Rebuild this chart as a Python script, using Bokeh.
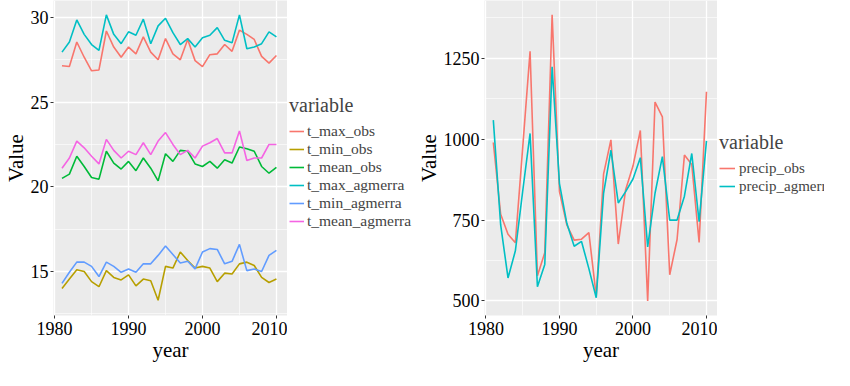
from bokeh.plotting import figure
from bokeh.layouts import row
from bokeh.models import Range1d, FixedTicker, Legend, LegendItem
from bokeh.embed import file_html
from bokeh.resources import INLINE

years = list(range(1981, 2011))

t_max_obs = [27.15, 27.1, 28.55, 27.65, 26.85, 26.9, 29.2, 28.25, 27.65, 28.25, 27.85, 28.85, 27.95, 27.5, 28.75,
             27.85, 27.5, 28.7, 27.45, 27.1, 27.8, 27.85, 28.4, 28.0, 29.25, 29.0, 28.7, 27.7, 27.3, 27.75]
t_min_obs = [14.0, 14.55, 15.1, 15.0, 14.4, 14.1, 15.05, 14.65, 14.5, 14.8, 14.15, 14.55, 14.45, 13.3, 15.3,
             15.2, 16.15, 15.65, 15.2, 15.3, 15.2, 14.4, 14.9, 14.85, 15.45, 15.55, 15.35, 14.65, 14.35, 14.55]
t_mean_obs = [20.5, 20.75, 21.8, 21.2, 20.55, 20.45, 22.1, 21.4, 21.05, 21.5, 20.95, 21.7, 21.1, 20.35, 21.95,
              21.5, 22.15, 22.1, 21.35, 21.2, 21.5, 21.1, 21.6, 21.4, 22.35, 22.25, 22.1, 21.2, 20.8, 21.15]
t_max_agmerra = [27.95, 28.55, 29.85, 29.0, 28.4, 28.05, 30.15, 29.0, 28.45, 29.15, 28.95, 29.9, 28.45, 29.5, 29.95,
                 29.1, 28.4, 28.75, 28.25, 28.8, 28.95, 29.4, 28.65, 28.5, 30.15, 28.15, 28.25, 28.45, 29.15, 28.85]
t_min_agmerra = [14.3, 14.95, 15.55, 15.55, 15.3, 14.7, 15.55, 15.3, 14.95, 15.15, 14.95, 15.45, 15.45, 15.95, 16.5,
                 16.0, 15.5, 15.6, 15.15, 16.15, 16.35, 16.3, 15.45, 15.6, 16.6, 15.05, 15.15, 15.0, 15.95, 16.25]
t_mean_agmerra = [21.1, 21.7, 22.7, 22.3, 21.8, 21.35, 22.8, 22.15, 21.7, 22.1, 21.9, 22.6, 21.9, 22.7, 23.2,
                  22.5, 21.9, 22.15, 21.7, 22.4, 22.6, 22.85, 22.0, 22.0, 23.3, 21.55, 21.7, 21.7, 22.5, 22.5]

precip_obs = [990, 768, 706, 680, 975, 1272, 578, 649, 1385, 838, 735, 688, 691, 711, 515,
              892, 998, 676, 844, 917, 1027, 500, 1115, 1069, 581, 690, 951, 922, 681, 1147]
precip_agmerra = [1059, 735, 571, 655, 840, 1018, 544, 613, 1224, 863, 740, 669, 684, 600, 510,
                  833, 966, 803, 838, 877, 943, 667, 833, 946, 750, 750, 824, 956, 745, 995]

x_ticks = [1980, 1990, 2000, 2010]
x_minor = [1985, 1995, 2005]
left_ticks = [15, 20, 25, 30]
left_minor = [12.5, 17.5, 22.5, 27.5]
right_ticks = [500, 750, 1000, 1250]
right_minor = [625, 875, 1125, 1375]

left_names = ["t_max_obs", "t_min_obs", "t_mean_obs", "t_max_agmerra", "t_min_agmerra", "t_mean_agmerra"]
left_series = [t_max_obs, t_min_obs, t_mean_obs, t_max_agmerra, t_min_agmerra, t_mean_agmerra]
left_colors = ["#F8766D", "#B79F00", "#00BA38", "#00BFC4", "#619CFF", "#F564E3"]
right_names = ["precip_obs", "precip_agmerra"]
right_series = [precip_obs, precip_agmerra]
right_colors = ["#F8766D", "#00BFC4"]

FONT = "Liberation Serif"
H = 364


def style(p, xt, xm, yt, ym):
    p.background_fill_color = "#EBEBEB"
    p.border_fill_color = "white"
    p.outline_line_color = None
    p.xaxis.ticker = FixedTicker(ticks=xt, minor_ticks=xm)
    p.yaxis.ticker = FixedTicker(ticks=yt, minor_ticks=ym)
    for g in (p.xgrid, p.ygrid):
        g.grid_line_color = "white"
        g.grid_line_width = 1.3
        g.minor_grid_line_color = "white"
        g.minor_grid_line_width = 0.6
    for ax in (p.xaxis, p.yaxis):
        ax.axis_line_color = None
        ax.major_tick_line_color = "#333333"
        ax.major_tick_in = 0
        ax.major_tick_out = 3
        ax.minor_tick_line_color = None
        ax.major_label_text_font = FONT
        ax.major_label_text_font_size = "18px"
        ax.major_label_text_color = "black"
        ax.axis_label_text_font = FONT
        ax.axis_label_text_font_style = "normal"
        ax.axis_label_text_font_size = "21px"
        ax.axis_label_text_color = "black"
    p.xaxis.major_label_standoff = 2
    p.yaxis.major_label_standoff = 1
    p.xaxis.axis_label_standoff = 0
    p.yaxis.axis_label_standoff = 0
    p.xaxis.axis_label = "year"
    p.yaxis.axis_label = "Value"


def legend_panel(width, names, series, colors, loc, font_size, glyph_w, standoff):
    # legend-only panel: the series lie outside its visible range,
    # so only the legend (keys + labels) shows
    lp = figure(width=width, height=H, output_backend="svg", toolbar_location=None,
                x_axis_type=None, y_axis_type=None,
                x_range=Range1d(0, 1), y_range=Range1d(0, 1),
                min_border_left=0, min_border_right=0, min_border_top=0, min_border_bottom=0)
    lp.grid.visible = False
    lp.outline_line_color = None
    lp.background_fill_color = "white"
    lp.border_fill_color = "white"
    items = []
    for name, ys, c in zip(names, series, colors):
        r = lp.line(years, ys, line_color=c, line_width=1.6)
        items.append(LegendItem(label=name, renderers=[r]))
    lg = Legend(items=items, title="variable", location=loc)
    lg.title_text_font = FONT
    lg.title_text_font_size = "20px"
    lg.title_text_font_style = "normal"
    lg.title_standoff = 5
    lg.label_text_font = FONT
    lg.label_text_font_size = font_size
    lg.glyph_width = glyph_w
    lg.glyph_height = 18
    lg.label_height = 18
    lg.label_standoff = standoff
    lg.spacing = 0
    lg.padding = 1
    lg.margin = 0
    lg.border_line_color = None
    lg.background_fill_color = "white"
    lp.add_layout(lg)
    return lp


p1 = figure(width=287, height=H, output_backend="svg", toolbar_location=None,
            x_range=Range1d(1979.85, 2011.5), y_range=Range1d(12.4, 31.0),
            min_border_left=40, min_border_right=0, min_border_top=0, min_border_bottom=40)
style(p1, x_ticks, x_minor, left_ticks, left_minor)
for name, ys, c in zip(left_names, left_series, left_colors):
    p1.line(years, ys, line_color=c, line_width=1.6)

leg1 = legend_panel(126, left_names, left_series, left_colors, (2, 85), "15.5px", 15, 3)

p2 = figure(width=304, height=H, output_backend="svg", toolbar_location=None,
            x_range=Range1d(1979.8, 2011.5), y_range=Range1d(455, 1429),
            min_border_left=62, min_border_right=0, min_border_top=0, min_border_bottom=40)
style(p2, x_ticks, x_minor, right_ticks, right_minor)
for name, ys, c in zip(right_names, right_series, right_colors):
    p2.line(years, ys, line_color=c, line_width=1.6)

leg2 = legend_panel(107, right_names, right_series, right_colors, (2, 120), "15px", 16, 4)

layout = row(p1, leg1, p2, leg2)
open("out.html", "w").write(file_html(layout, INLINE))
